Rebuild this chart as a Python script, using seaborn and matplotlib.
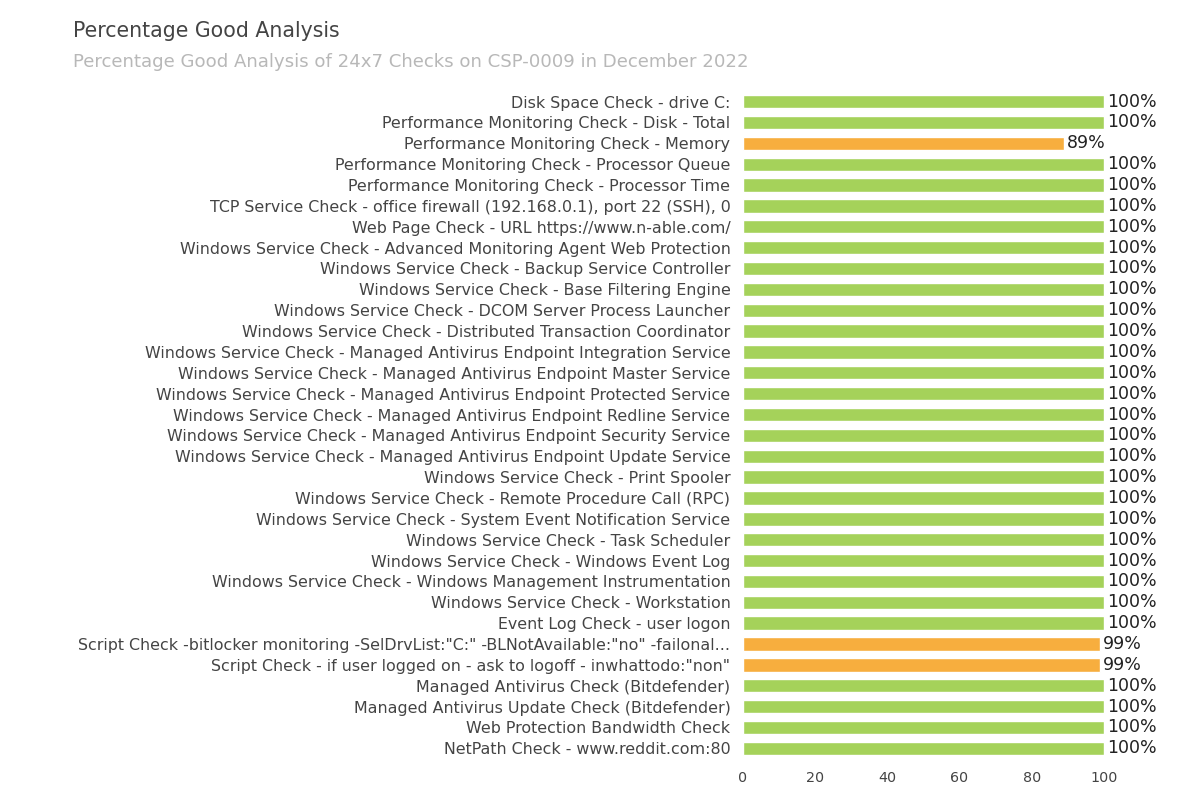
import pandas as pd
import numpy as np
import matplotlib
matplotlib.use('Agg')
import matplotlib.pyplot as plt
import seaborn as sb

checks = [
    'Disk Space Check - drive C:',
    'Performance Monitoring Check - Disk - Total',
    'Performance Monitoring Check - Memory',
    'Performance Monitoring Check - Processor Queue',
    'Performance Monitoring Check - Processor Time',
    'TCP Service Check - office firewall (192.168.0.1), port 22 (SSH), 0',
    'Web Page Check - URL https://www.n-able.com/',
    'Windows Service Check - Advanced Monitoring Agent Web Protection',
    'Windows Service Check - Backup Service Controller',
    'Windows Service Check - Base Filtering Engine',
    'Windows Service Check - DCOM Server Process Launcher',
    'Windows Service Check - Distributed Transaction Coordinator',
    'Windows Service Check - Managed Antivirus Endpoint Integration Service',
    'Windows Service Check - Managed Antivirus Endpoint Master Service',
    'Windows Service Check - Managed Antivirus Endpoint Protected Service',
    'Windows Service Check - Managed Antivirus Endpoint Redline Service',
    'Windows Service Check - Managed Antivirus Endpoint Security Service',
    'Windows Service Check - Managed Antivirus Endpoint Update Service',
    'Windows Service Check - Print Spooler',
    'Windows Service Check - Remote Procedure Call (RPC)',
    'Windows Service Check - System Event Notification Service',
    'Windows Service Check - Task Scheduler',
    'Windows Service Check - Windows Event Log',
    'Windows Service Check - Windows Management Instrumentation',
    'Windows Service Check - Workstation',
    'Event Log Check - user logon',
    'Script Check -bitlocker monitoring -SelDrvList:"C:" -BLNotAvailable:"no" -failonal...',
    'Script Check - if user logged on - ask to logoff - inwhattodo:"non"',
    'Managed Antivirus Check (Bitdefender)',
    'Managed Antivirus Update Check (Bitdefender)',
    'Web Protection Bandwidth Check',
    'NetPath Check - www.reddit.com:80',
]
pct_good = [100, 100, 89, 100, 100, 100, 100, 100, 100, 100, 100, 100, 100,
            100, 100, 100, 100, 100, 100, 100, 100, 100, 100, 100, 100, 100,
            99, 99, 100, 100, 100, 100]

df = pd.DataFrame({'check': checks, 'pct': pct_good})
df['status'] = np.where(df['pct'] >= 100, 'full', 'partial')

sb.set_style('white')
plt.rcParams['font.family'] = ['DejaVu Sans']

fig = plt.figure(figsize=(12.01, 8.06), dpi=100)
ax = fig.add_axes([0.6186, 0.0586, 0.3006, 0.8283])

sb.barplot(data=df, x='pct', y='check', hue='status', orient='h',
           palette={'full': '#a5d25a', 'partial': '#f7ae3e'}, saturation=1,
           width=0.64, dodge=False, legend=False, ax=ax)

for c in ax.containers:
    ax.bar_label(c, fmt='%d%%', padding=2, fontsize=12.5, color='#222222')

ax.set_xlim(0, 100)
ax.set_xticks([0, 20, 40, 60, 80, 100])
ax.set_xlabel('')
ax.set_ylabel('')
ax.tick_params(axis='y', length=0, pad=9, labelsize=11.4, labelcolor='#444444')
ax.tick_params(axis='x', length=0, pad=9, labelsize=10.3, labelcolor='#444444')
sb.despine(ax=ax, left=True, bottom=True)

fig.text(0.061, 0.962, 'Percentage Good Analysis', fontsize=14.8,
         color='#444444', va='center')
fig.text(0.061, 0.923,
         'Percentage Good Analysis of 24x7 Checks on CSP-0009 in December 2022',
         fontsize=13.1, color='#b8b8b8', va='center')

fig.savefig('out.png', dpi=100)
